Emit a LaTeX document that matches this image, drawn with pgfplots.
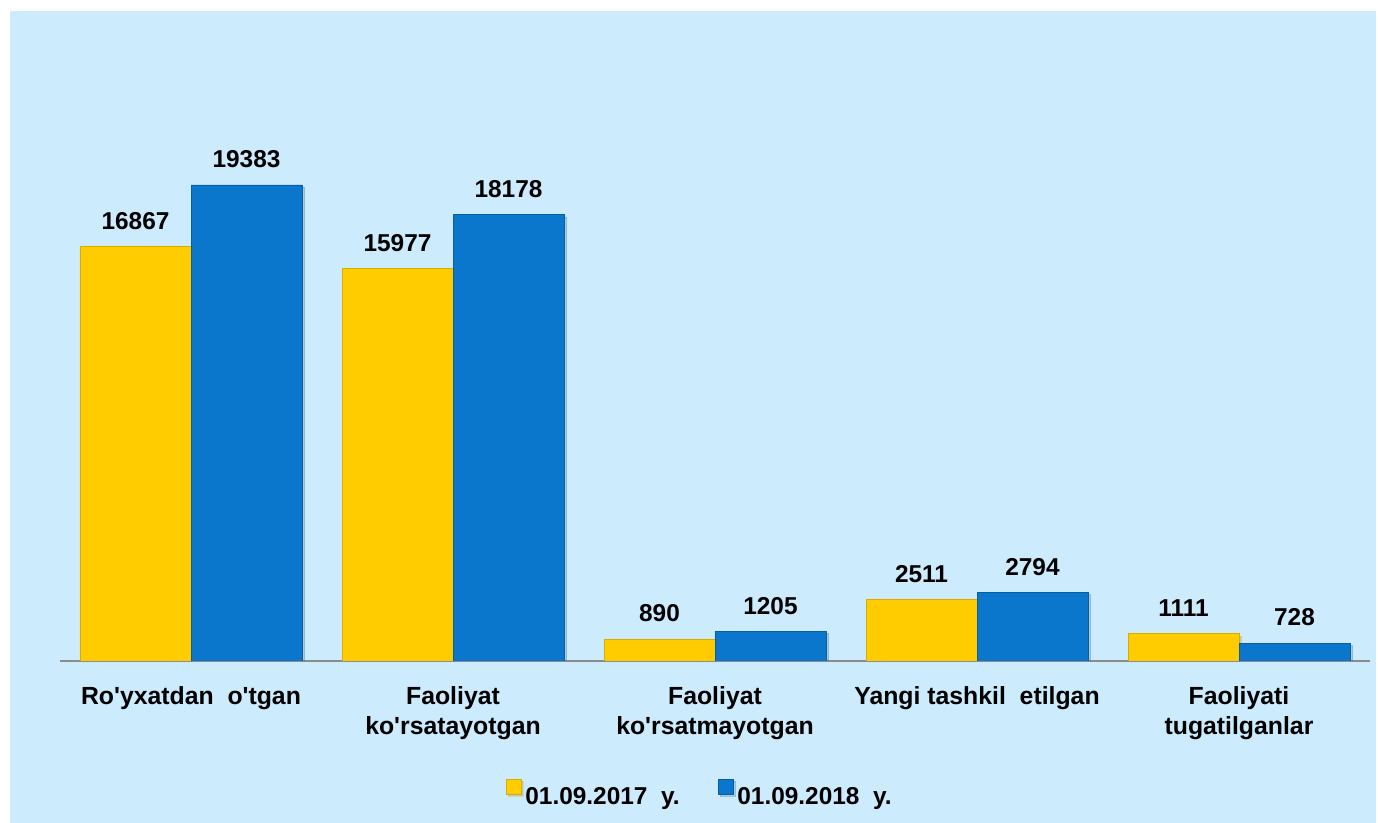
\documentclass[border=0pt]{standalone}
\usepackage{fontspec}
\setmainfont{Liberation Sans}
\usepackage{pgfplots}
\pgfplotsset{compat=1.18}
\usetikzlibrary{shadows}
\definecolor{bgblue}{RGB}{204,235,253}
\definecolor{baryellow}{RGB}{255,204,0}
\definecolor{barblue}{RGB}{10,118,204}
\newcommand{\q}{\textquotesingle}

\begin{document}
\begin{tikzpicture}
\useasboundingbox (0pt,0pt) rectangle (689pt,411.5pt);
\fill[white] (0pt,0pt) rectangle (689pt,411.5pt);
\fill[bgblue] (5pt,0pt) rectangle (688pt,406pt);
\begin{axis}[
  at={(30pt,81pt)}, anchor=south west,
  scale only axis, width=655pt, height=307pt,
  ybar=0pt, bar width=55.5pt,
  xmin=-0.5, xmax=4.5, ymin=0, ymax=25000,
  axis x line=bottom, axis y line=none,
  axis line style={-, draw=black!45, line width=1pt},
  xtick={0,1,2,3,4}, major tick length=0pt,
  xticklabels={{Ro\q yxatdan\ \ o\q tgan},{Faoliyat\\ko\q rsatayotgan},{Faoliyat\\ko\q rsatmayotgan},{Yangi tashkil\ \ etilgan},{Faoliyati\\tugatilganlar}},
  xticklabel style={align=center, font=\fontsize{12.4}{15}\selectfont\bfseries, yshift=-9pt},
  nodes near coords={\pgfmathprintnumber[1000 sep={},assume math mode=true]{\pgfplotspointmeta}},
  every node near coord/.append style={font=\fontsize{12.2}{15}\selectfont\bfseries, text=black, yshift=5pt},
  legend style={at={(axis description cs:0.489,-0.218)}, anchor=center, draw=none, fill=none,
    legend columns=2, font=\fontsize{12.2}{15}\selectfont\bfseries,
    /tikz/every even column/.append style={column sep=17pt}},
  legend image code/.code={\fill[#1] (0pt,1.5pt) rectangle (7.5pt,9pt);},
]
\addplot[fill=baryellow, draw=baryellow!85!black, drop shadow={shadow xshift=1.2pt, shadow yshift=-1.2pt, opacity=0.3}] coordinates {(0,16867)(1,15977)(2,890)(3,2511)(4,1111)};
\addplot[fill=barblue, draw=barblue!80!black, drop shadow={shadow xshift=1.2pt, shadow yshift=-1.2pt, opacity=0.3}] coordinates {(0,19383)(1,18178)(2,1205)(3,2794)(4,728)};
\legend{01.09.2017\ \ y.,01.09.2018\ \ y.}
\end{axis}
\end{tikzpicture}
\end{document}
